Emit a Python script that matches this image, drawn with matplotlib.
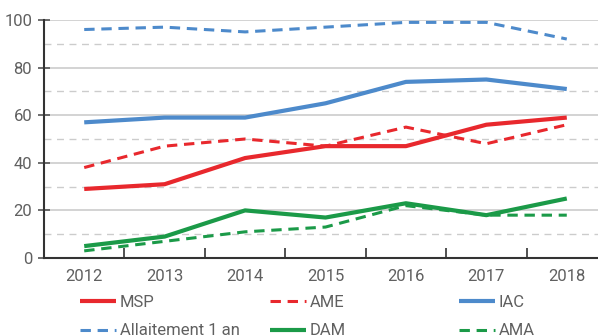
import matplotlib.pyplot as plt
import numpy as np

plt.rcParams["font.family"] = ["Roboto", "DejaVu Sans"]

years = ["2012", "2013", "2014", "2015", "2016", "2017", "2018"]

msp = [29, 31, 42, 47, 47, 56, 59]
ame = [38, 47, 50, 47, 55, 48, 56]
iac = [57, 59, 59, 65, 74, 75, 71]
allaitement = [96, 97, 95, 97, 99, 99, 92]
dam = [5, 9, 20, 17, 23, 18, 25]
ama = [3, 7, 11, 13, 22, 18, 18]

RED = "#e8282d"
BLUE = "#4d8acb"
GREEN = "#1b9a48"
TEXT = "#606060"

fig = plt.figure(figsize=(5.98, 3.36), dpi=100)
ax = fig.add_axes([44 / 598, 78 / 336, 1 - 44 / 598, 238 / 336])

x = np.arange(len(years))
solid = dict(lw=3.0, solid_capstyle="butt")
dashed = dict(lw=2.2, dashes=(3.4, 2.2))

series = [
    (msp, "MSP", RED, solid),
    (ame, "AME", RED, dashed),
    (iac, "IAC", BLUE, solid),
    (allaitement, "Allaitement 1 an", BLUE, dashed),
    (dam, "DAM", GREEN, solid),
    (ama, "AMA", GREEN, dashed),
]
lines = []
for values, label, color, style in series:
    ln, = ax.plot(x, values, color=color, label=label, zorder=3, **style)
    lines.append(ln)

ax.set_xlim(-0.5, 6.5 - 9 / 80.5)
ax.set_ylim(0, 100)

# solid grid every 20, dashed in between
ax.set_yticks([0, 20, 40, 60, 80, 100])
ax.set_yticks([10, 30, 50, 70, 90], minor=True)
ax.grid(axis="y", which="major", color="#cccccc", lw=1.2)
ax.grid(axis="y", which="minor", color="#cccccc", lw=1.0, linestyle=(0, (5, 4)))
ax.tick_params(axis="y", which="minor", length=0)
ax.tick_params(axis="y", which="major", direction="inout", length=9, width=1.2,
               color="#555555", labelsize=12, labelcolor=TEXT, pad=4)

# category labels centred, tick marks on the boundaries
ax.set_xticks(x)
ax.set_xticklabels(years)
ax.tick_params(axis="x", which="major", length=0, labelsize=12, labelcolor=TEXT, pad=8)
ax.set_xticks(np.arange(0.5, 6.5, 1.0), minor=True)
ax.tick_params(axis="x", which="minor", direction="in", length=7, width=1.2, color="#333333")

for side in ["top", "right"]:
    ax.spines[side].set_visible(False)
for side in ["left", "bottom"]:
    ax.spines[side].set_color("#333333")
    ax.spines[side].set_linewidth(1.5)

# legend laid out as three evenly spaced columns, filled row by row
col_x = [80, 270, 459]
for i, left in enumerate(col_x):
    handles = [lines[i], lines[i + 3]]
    fig.legend(handles=handles, loc="upper left",
               bbox_to_anchor=(left / 598, 1 - 295 / 336),
               frameon=False, fontsize=12, labelcolor=TEXT,
               handlelength=2.16, handletextpad=0.22,
               borderaxespad=0, borderpad=0, labelspacing=0.8)

fig.savefig("out.png", dpi=100)
